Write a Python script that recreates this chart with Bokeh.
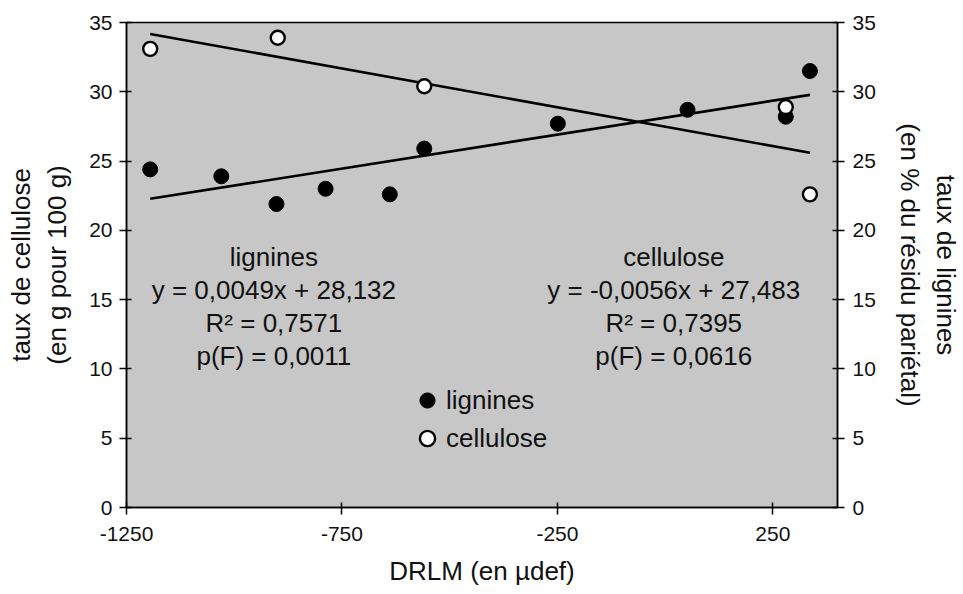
from bokeh.plotting import figure
from bokeh.models import Range1d, LinearAxis, FixedTicker, Label, Legend, LegendItem
from bokeh.embed import file_html
from bokeh.resources import INLINE

# ---------------- data ----------------
lig_x = [-1195, -1030, -902, -788, -639, -559, -249, 52, 280, 336]
lig_y = [24.4, 23.9, 21.9, 23.0, 22.6, 25.9, 27.7, 28.7, 28.2, 31.5]

cel_x = [-1195, -899, -559, 280, 336]
cel_y = [33.1, 33.9, 30.4, 28.9, 22.6]

# regression results printed on the chart
lig_slope, lig_intercept, lig_r2, lig_pF = 0.0049, 28.132, 0.7571, 0.0011
cel_slope, cel_intercept, cel_r2, cel_pF = -0.0056, 27.483, 0.7395, 0.0616

x_ticks = [-1250, -750, -250, 250]
x_tick_labels = ["-1250", "-750", "-250", "250"]
y_ticks = [0, 5, 10, 15, 20, 25, 30, 35]

x_title = "DRLM (en µdef)"
y_title_left = "taux de cellulose\n(en g pour 100 g)"
y_title_right = "taux de lignines\n(en % du résidu pariétal)"

FONT = "Liberation Sans"
INK = "#111111"


def fr(v, nd):
    return f"{v:.{nd}f}".replace(".", ",")


def eq(slope, intercept):
    return f"y = {fr(slope, 4)}x + {fr(intercept, 3)}"


# ---------------- figure ----------------
p = figure(width=963, height=594,
           x_range=Range1d(-1250, 400), y_range=Range1d(0, 35),
           output_backend="svg", toolbar_location=None,
           min_border_left=126, min_border_right=118,
           min_border_top=22, min_border_bottom=87)
p.extra_y_ranges = {"right": Range1d(0, 35)}

p.background_fill_color = "#c7c7c7"
p.border_fill_color = "white"
p.outline_line_color = "black"
p.outline_line_width = 1.5
p.xgrid.visible = False
p.ygrid.visible = False


def style_axis(ax, tick_standoff, title_standoff):
    ax.axis_line_color = "black"
    ax.axis_line_width = 1.5
    ax.major_tick_line_color = "black"
    ax.major_tick_line_width = 1.5
    ax.major_tick_in = 5
    ax.major_tick_out = 7
    ax.minor_tick_line_color = None
    ax.major_label_text_font = FONT
    ax.major_label_text_font_size = "21px"
    ax.major_label_text_color = INK
    ax.major_label_standoff = tick_standoff
    ax.axis_label_text_font = FONT
    ax.axis_label_text_font_size = "26px"
    ax.axis_label_text_font_style = "normal"
    ax.axis_label_text_color = INK
    ax.axis_label_standoff = title_standoff


xa = p.xaxis[0]
xa.ticker = FixedTicker(ticks=x_ticks)
xa.major_label_overrides = {t: l for t, l in zip(x_ticks, x_tick_labels)}
xa.axis_label = x_title
style_axis(xa, 12, 12)

ya = p.yaxis[0]
ya.ticker = FixedTicker(ticks=y_ticks)
ya.axis_label = y_title_left
style_axis(ya, 7, 14)

yr = LinearAxis(y_range_name="right", ticker=FixedTicker(ticks=y_ticks),
                axis_label=y_title_right)
style_axis(yr, 8, 16)
p.add_layout(yr, "right")

# ---------------- regression lines ----------------
for xs, sl, ic in [(lig_x, lig_slope, lig_intercept), (cel_x, cel_slope, cel_intercept)]:
    x0, x1 = min(xs), max(xs)
    p.line([x0, x1], [sl * x0 + ic, sl * x1 + ic], line_color="black", line_width=2.6)

# ---------------- points ----------------
r_lig = p.scatter(lig_x, lig_y, size=15, marker="circle",
                  fill_color="black", line_color="black", line_width=1)
r_cel = p.scatter(cel_x, cel_y, size=14, marker="circle",
                  fill_color="white", line_color="black", line_width=2.4)

# ---------------- legend ----------------
legend = Legend(items=[LegendItem(label="lignines", renderers=[r_lig]),
                       LegendItem(label="cellulose", renderers=[r_cel])],
                location=(282, 50), glyph_width=38, glyph_height=38,
                label_standoff=-5, padding=0, margin=0, spacing=0,
                border_line_alpha=0, background_fill_alpha=0,
                label_text_font=FONT, label_text_font_size="26px",
                label_text_color=INK)
p.add_layout(legend)

# ---------------- statistics text ----------------
blocks = [
    (-908, ["lignines", eq(lig_slope, lig_intercept),
            f"R² = {fr(lig_r2, 4)}", f"p(F) = {fr(lig_pF, 4)}"]),
    (20, ["cellulose", eq(cel_slope, cel_intercept),
          f"R² = {fr(cel_r2, 4)}", f"p(F) = {fr(cel_pF, 4)}"]),
]
for bx, lines in blocks:
    for i, txt in enumerate(lines):
        p.add_layout(Label(x=bx, y=18.1, y_offset=-33 * i, text=txt,
                           text_align="center", text_baseline="middle",
                           text_font=FONT, text_font_size="26px",
                           text_color=INK))

open("out.html", "w").write(file_html(p, INLINE))
